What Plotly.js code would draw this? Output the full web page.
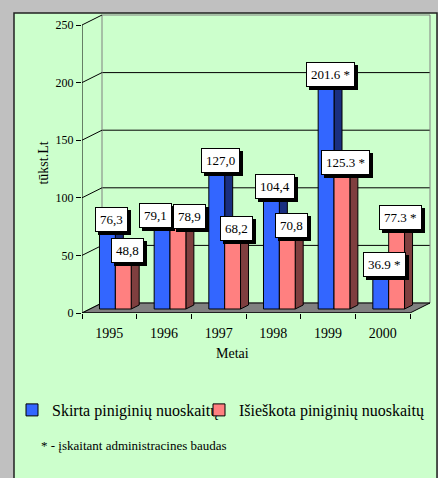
<!DOCTYPE html>
<html>
<head>
<meta charset="utf-8">
<script src="https://cdn.plot.ly/plotly-3.0.1.min.js"></script>
<style>html,body{margin:0;padding:0;background:#c0c0c0;}#chart{width:438px;height:478px;}</style>
</head>
<body>
<div id="chart"></div>
<script>
// ---- data ----
const years = [1995, 1996, 1997, 1998, 1999, 2000];
const skirta = [76.3, 79.1, 127.0, 104.4, 201.6, 36.9];
const isieskota = [48.8, 78.9, 68.2, 70.8, 125.3, 77.3];
const skirtaLabels = ['76,3', '79,1', '127,0', '104,4', '201.6 *', '36.9 *'];
const isieskotaLabels = ['48,8', '78,9', '68,2', '70,8', '125.3 *', '77.3 *'];
const yTicks = [0, 50, 100, 150, 200, 250];
const seriesNames = ['Skirta piniginių nuoskaitų', 'Išieškota piniginių nuoskaitų'];

// ---- geometry (pixels -> data units) ----
const L = 82, R = 432, T = 13, B = 313;
const W = 54.667;          // px per year
const K = 1.152;           // px per unit value
const x0r = years[0] - 0.5;
const xRange = [x0r, x0r + (R - L) / W];
const yRange = [0, (B - T) / K];
const DX = 20 / W, DY = 10 / K;      // full depth
const BASE = 4 / K;                  // bar front plane bottom
const SDX = 8 / W, SDY = 4 / K;      // bar depth
const BW = 0.29;
const xEnd = years[years.length - 1] + 0.5;
const yMax = yTicks[yTicks.length - 1];
// label nudges in pixels (style): year -> [series0 dx, series1 dx]
const labelNudge = {1996: [-11, 8]};

const FONT = 'Liberation Serif, Times New Roman, serif';

const series = [
  {name: seriesNames[0], values: skirta, labels: skirtaLabels, color: '#3366ff', side: '#1a2f80', offset: -0.18, legend: 'legend'},
  {name: seriesNames[1], values: isieskota, labels: isieskotaLabels, color: '#ff8080', side: '#7f3f3f', offset: 0.11, legend: 'legend2'}
];

function ln(xa, ya, xb, yb, color, width) {
  return {type: 'line', xref: 'x', yref: 'y', x0: xa, y0: ya, x1: xb, y1: yb,
          line: {color: color, width: width || 1}, layer: 'below'};
}
function poly(pts, fill, lc) {
  const p = 'M' + pts.map(q => q[0] + ',' + q[1]).join(' L') + ' Z';
  return {type: 'path', xref: 'x', yref: 'y', path: p, fillcolor: fill,
          line: {color: lc || '#000', width: 1}, layer: 'below'};
}
function px2paperX(px) { return (px - L) / (R - L); }
function px2paperY(py) { return 1 - (py - T) / (B - T); }

const shapes = [];
// green panel
shapes.push({type: 'rect', xref: 'paper', yref: 'paper',
  x0: px2paperX(14), x1: px2paperX(437), y0: px2paperY(490), y1: px2paperY(13),
  fillcolor: '#ccffcc', line: {color: '#222', width: 1.5}, layer: 'below'});
// back wall gridlines
yTicks.forEach(v => {
  if (v > 0 && v < yMax) shapes.push(ln(x0r + DX, v + DY, xEnd + DX, v + DY, '#000', 1));
});
// back wall border
shapes.push(poly([[x0r + DX, DY], [x0r + DX, yMax + DY], [xEnd + DX, yMax + DY], [xEnd + DX, DY]], 'rgba(0,0,0,0)', '#808080'));
// left wall slanted lines
yTicks.forEach(v => shapes.push(ln(x0r, v, x0r + DX, v + DY, '#000', 1)));
// floor
shapes.push(poly([[x0r, 0], [xEnd, 0], [xEnd + DX, DY], [x0r + DX, DY]], '#808080', '#000'));
// front axes lines
shapes.push(ln(x0r, 0, x0r, yMax, '#000', 1));
shapes.push(ln(x0r, 0, xEnd, 0, '#000', 1));
// bar sides and tops
years.forEach((yr, i) => {
  series.forEach(s => {
    const xa = yr + s.offset, xb = xa + BW, top = BASE + s.values[i];
    shapes.push(poly([[xb, BASE], [xb, top], [xb + SDX, top + SDY], [xb + SDX, BASE + SDY]], s.side, '#000'));
    shapes.push(poly([[xa, top], [xb, top], [xb + SDX, top + SDY], [xa + SDX, top + SDY]], s.color, '#000'));
  });
});

const traces = series.map(s => ({
  type: 'bar', name: s.name, x: years, y: s.values, base: BASE,
  offset: s.offset, width: BW, legend: s.legend,
  marker: {color: s.color, line: {color: '#000', width: 1}},
  hoverinfo: 'x+y'
}));

const annotations = [];
series.forEach((s, si) => {
  years.forEach((yr, i) => {
    const ax = yr + s.offset + BW / 2 + SDX / 2;
    const ay = BASE + s.values[i] + SDY / 2;
    const nudge = labelNudge[yr] ? labelNudge[yr][si] : 0;
    const common = {xref: 'x', yref: 'y', x: ax, y: ay, showarrow: false,
      text: s.labels[i], borderpad: 4, borderwidth: 1};
    annotations.push(Object.assign({}, common, {bgcolor: '#000', bordercolor: '#000',
      font: {family: FONT, size: 13, color: '#000'}, xshift: nudge + 3, yshift: -3}));
    annotations.push(Object.assign({}, common, {bgcolor: '#fff', bordercolor: '#000',
      font: {family: FONT, size: 13, color: '#000'}, xshift: nudge}));
  });
});
annotations.push({xref: 'paper', yref: 'paper', x: px2paperX(232), y: px2paperY(353),
  xanchor: 'center', yanchor: 'middle', showarrow: false, text: 'Metai',
  font: {family: FONT, size: 14, color: '#000'}});
annotations.push({xref: 'paper', yref: 'paper', x: px2paperX(39), y: px2paperY(445),
  xanchor: 'left', yanchor: 'middle', showarrow: false,
  text: '* - įskaitant administracines baudas',
  font: {family: FONT, size: 13, color: '#000'}});

const legendStyle = {orientation: 'h', xanchor: 'left', yanchor: 'top',
  bgcolor: 'rgba(0,0,0,0)', font: {family: FONT, size: 16, color: '#000'}};

const layout = {
  width: 438, height: 478,
  margin: {l: L, r: 438 - R, t: T, b: 478 - B, pad: 0, autoexpand: false},
  paper_bgcolor: '#c0c0c0', plot_bgcolor: 'rgba(0,0,0,0)',
  barmode: 'overlay', bargap: 0,
  font: {family: FONT, color: '#000'},
  showlegend: true,
  legend: Object.assign({}, legendStyle, {x: px2paperX(12), y: px2paperY(393)}),
  legend2: Object.assign({}, legendStyle, {x: px2paperX(199), y: px2paperY(393)}),
  xaxis: {range: xRange, tickvals: years, ticktext: years.map(String), ticks: '',
    minor: {tickvals: [x0r].concat(years.map(y => y + 0.5)), ticks: 'outside', ticklen: 5, tickcolor: '#000', tickwidth: 1, showgrid: false},
    showgrid: false, zeroline: false, showline: false, ticklabelstandoff: 10,
    tickfont: {family: FONT, size: 14, color: '#000'}, fixedrange: true},
  yaxis: {range: yRange, tickvals: yTicks, ticks: 'outside', ticklen: 5, tickcolor: '#000',
    showgrid: false, zeroline: false, showline: false,
    tickfont: {family: FONT, size: 12, color: '#000'},
    title: {text: 'tūkst.Lt', font: {family: FONT, size: 14, color: '#000'}, standoff: 3},
    fixedrange: true},
  shapes: shapes,
  annotations: annotations
};

Plotly.newPlot('chart', traces, layout, {displayModeBar: false, staticPlot: true});
</script>
</body>
</html>
